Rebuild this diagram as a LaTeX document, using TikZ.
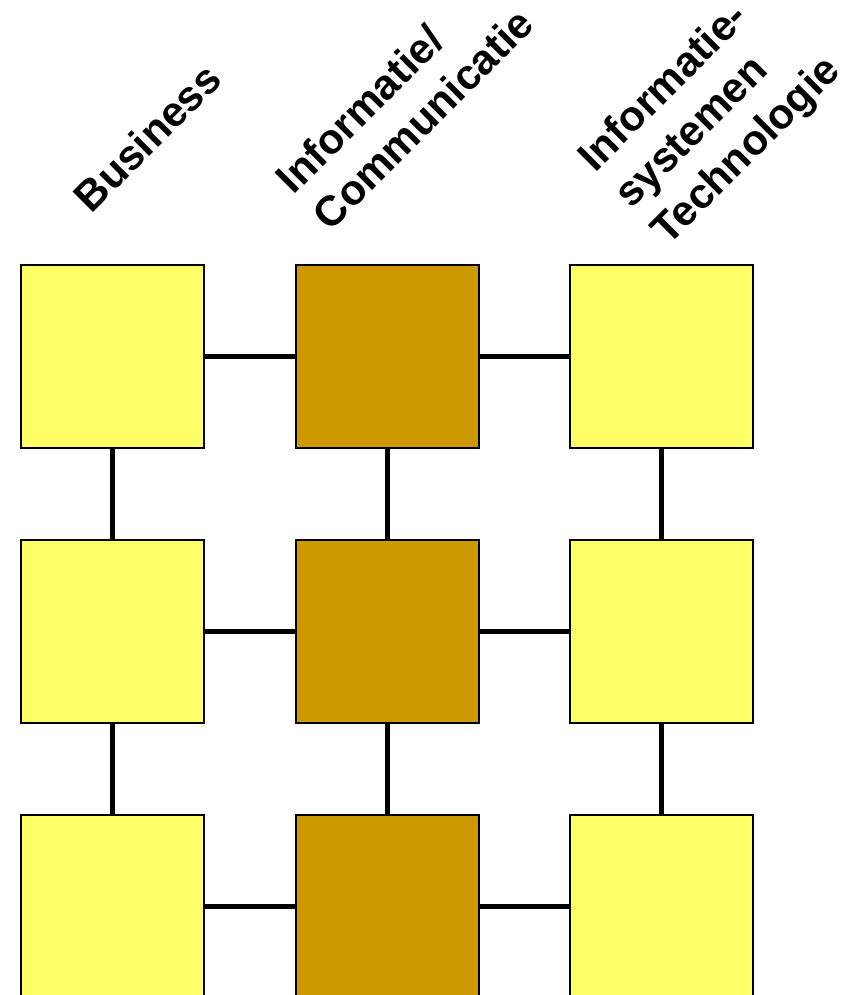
\documentclass[tikz,border=0pt]{standalone}
\usepackage{fontspec}
\setmainfont{Liberation Sans}
\usetikzlibrary{positioning}

\begin{document}
\begin{tikzpicture}[x=0.01cm,y=-0.01cm,
  light/.style={draw,line width=0.6pt,fill=lightyellow,minimum size=1.83cm,inner sep=0pt},
  dark/.style={draw,line width=0.6pt,fill=darkgold,minimum size=1.83cm,inner sep=0pt},
  link/.style={line width=1.2pt},
  head/.style={rotate=45,anchor=base west,inner sep=0pt,align=left,
    font=\fontsize{12}{14.7}\selectfont\bfseries}]
 \definecolor{lightyellow}{HTML}{FFFF66}
 \definecolor{darkgold}{HTML}{CC9900}
 \clip (0,0) rectangle (852,995);
 % links first, boxes on top
 \coordinate (c11) at (112.5,356.5);
 \coordinate (c12) at (387.5,356.5);
 \coordinate (c13) at (661.5,356.5);
 \coordinate (c21) at (112.5,631.5);
 \coordinate (c22) at (387.5,631.5);
 \coordinate (c23) at (661.5,631.5);
 \coordinate (c31) at (112.5,906.5);
 \coordinate (c32) at (387.5,906.5);
 \coordinate (c33) at (661.5,906.5);
 \draw [link] (c11) -- (c12) -- (c13);
 \draw [link] (c21) -- (c22) -- (c23);
 \draw [link] (c31) -- (c32) -- (c33);
 \draw [link] (c11) -- (c21) -- (c31);
 \draw [link] (c12) -- (c22) -- (c32);
 \draw [link] (c13) -- (c23) -- (c33);
 \node [light] (b1) at (c11) {};
 \node [dark] (i1) at (c12) {};
 \node [light] (t1) at (c13) {};
 \node [light] (b2) at (c21) {};
 \node [dark] (i2) at (c22) {};
 \node [light] (t2) at (c23) {};
 \node [light] (b3) at (c31) {};
 \node [dark] (i3) at (c32) {};
 \node [light] (t3) at (c33) {};
 % column heads (anchor is the last line)
 \node [head] (hb) at (91,215) {Business};
 \node [head] (hi) at (330,233) {Informatie/\\Communicatie};
 \node [head] (ht) at (668,247) {Informatie-\\systemen\\Technologie};
\end{tikzpicture}
\end{document}
